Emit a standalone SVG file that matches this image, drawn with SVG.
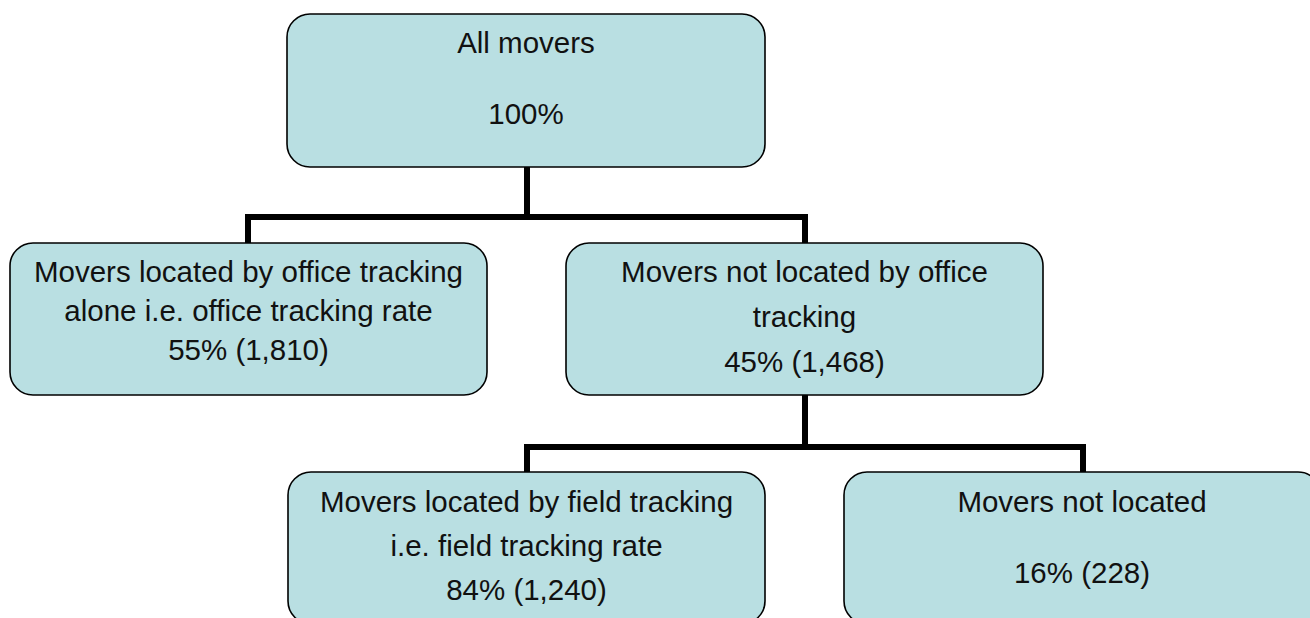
<svg xmlns="http://www.w3.org/2000/svg" width="1310" height="618" viewBox="0 0 1310 618">
  <style>
    .box { fill: #B9DFE2; stroke: #000; stroke-width: 1.6; }
    .lbl { font-family: "Liberation Sans", Arial, sans-serif; font-size: 29.5px; fill: #111; text-anchor: middle; }
    .wire { fill: none; stroke: #000; stroke-width: 6; stroke-linejoin: miter; stroke-linecap: butt; }
  </style>
  <rect width="1310" height="618" fill="#fff"/>

  <!-- tree connectors -->
  <g id="connectors">
    <path class="wire" d="M527 167 V217"/>
    <path class="wire" d="M248 243 V217 H805 V243"/>
    <path class="wire" d="M805 395 V447"/>
    <path class="wire" d="M527 472 V447 H1083 V472"/>
  </g>

  <g id="all-movers">
    <rect class="box" x="287" y="14" width="478" height="153" rx="23"/>
    <text class="lbl" x="526" y="53">All movers</text>
    <text class="lbl" x="526" y="124">100%</text>
  </g>

  <g id="office-located">
    <rect class="box" x="10" y="243" width="477" height="152" rx="23"/>
    <text class="lbl" x="248.5" y="282">Movers located by office tracking</text>
    <text class="lbl" x="248.5" y="321">alone i.e. office tracking rate</text>
    <text class="lbl" x="248.5" y="360">55% (1,810)</text>
  </g>

  <g id="office-not-located">
    <rect class="box" x="566" y="243" width="477" height="152" rx="23"/>
    <text class="lbl" x="804.5" y="282">Movers not located by office</text>
    <text class="lbl" x="804.5" y="327">tracking</text>
    <text class="lbl" x="804.5" y="372">45% (1,468)</text>
  </g>

  <g id="field-located">
    <rect class="box" x="288" y="472" width="477" height="152" rx="23"/>
    <text class="lbl" x="526.5" y="512">Movers located by field tracking</text>
    <text class="lbl" x="526.5" y="556">i.e. field tracking rate</text>
    <text class="lbl" x="526.5" y="600">84% (1,240)</text>
  </g>

  <g id="not-located">
    <rect class="box" x="844" y="472" width="477" height="152" rx="23"/>
    <text class="lbl" x="1082" y="512">Movers not located</text>
    <text class="lbl" x="1082" y="583">16% (228)</text>
  </g>
</svg>
